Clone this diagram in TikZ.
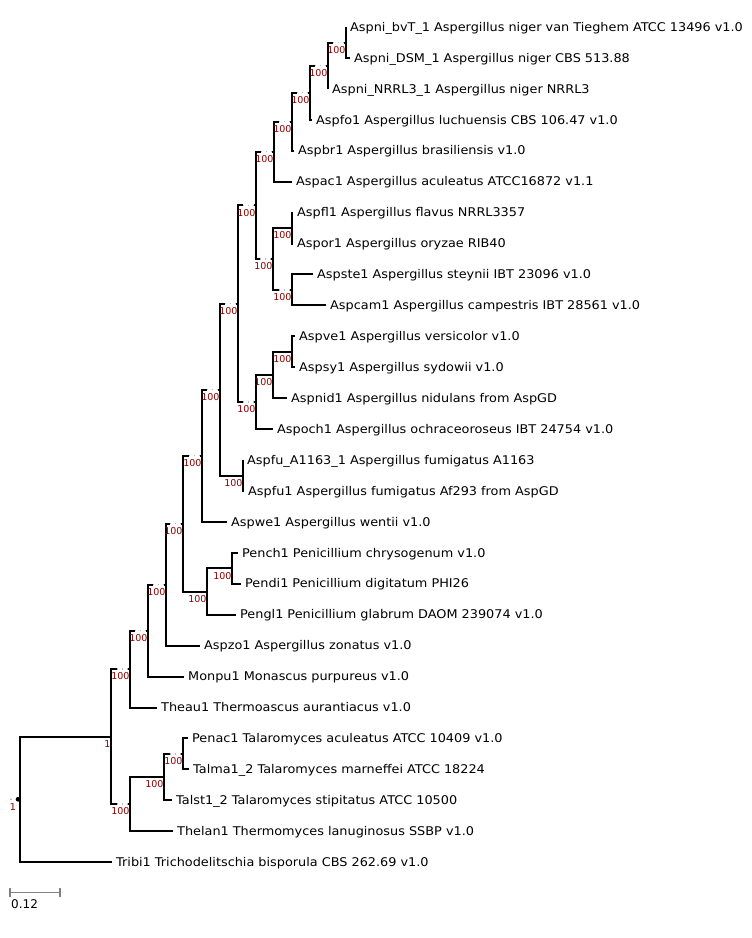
\documentclass[tikz,border=0pt]{standalone}
\usepackage{fontspec}
\setmainfont{DejaVu Sans}
\newfontfamily\leaffont[FakeStretch=1.07]{DejaVu Sans}
\usepackage{xcolor}
\usepackage{tikz}

\definecolor{bootred}{RGB}{139,0,0}

\begin{document}
\begin{tikzpicture}[x=1pt,y=-1pt]
			\tikzstyle{branch}=[draw, line width=2pt]
			\tikzstyle{leaf}=[anchor=west, inner sep=0pt, inner xsep=4pt, text height=8.5pt, text depth=0pt, font=\leaffont\fontsize{12}{14}\selectfont]
			\tikzstyle{boot}=[anchor=north east, inner sep=0pt, xshift=-0.3pt, yshift=-3.5pt, text height=7pt, text depth=0pt, text=bootred, font=\fontsize{9.5}{11}\selectfont]
			\tikzstyle{scalebar}=[draw=gray, line width=1.4pt]
			\tikzset{bsmark/.style = {draw=gray!55, line width=1.3pt, dash pattern=on 1.3pt off 3.5pt, preaction={draw=white, line width=2.6pt, solid}}}
			
			\useasboundingbox (0,0) rectangle (752,938);
			
			\node[leaf](bvT) at (346,27) {Aspni\_bvT\_1 Aspergillus niger van Tieghem ATCC 13496 v1.0};
			\node[leaf](dsm) at (350,57.9) {Aspni\_DSM\_1 Aspergillus niger CBS 513.88};
			\node[leaf](nrrl) at (328,88.9) {Aspni\_NRRL3\_1 Aspergillus niger NRRL3};
			\node[leaf](aspfo) at (312,119.8) {Aspfo1 Aspergillus luchuensis CBS 106.47 v1.0};
			\node[leaf](aspbr) at (294,150.7) {Aspbr1 Aspergillus brasiliensis v1.0};
			\node[leaf](aspac) at (292,181.7) {Aspac1 Aspergillus aculeatus ATCC16872 v1.1};
			\node[leaf](aspfl) at (293,212.6) {Aspfl1 Aspergillus flavus NRRL3357};
			\node[leaf](aspor) at (293,243.5) {Aspor1 Aspergillus oryzae RIB40};
			\node[leaf](aspste) at (313,274.4) {Aspste1 Aspergillus steynii IBT 23096 v1.0};
			\node[leaf](aspcam) at (326,305.4) {Aspcam1 Aspergillus campestris IBT 28561 v1.0};
			\node[leaf](aspve) at (295,336.3) {Aspve1 Aspergillus versicolor v1.0};
			\node[leaf](aspsy) at (295,367.2) {Aspsy1 Aspergillus sydowii v1.0};
			\node[leaf](aspnid) at (287,398.2) {Aspnid1 Aspergillus nidulans from AspGD};
			\node[leaf](aspoch) at (273,429.1) {Aspoch1 Aspergillus ochraceoroseus IBT 24754 v1.0};
			\node[leaf](aspfua) at (243,460) {Aspfu\_A1163\_1 Aspergillus fumigatus A1163};
			\node[leaf](aspfu) at (244,490.9) {Aspfu1 Aspergillus fumigatus Af293 from AspGD};
			\node[leaf](aspwe) at (227,521.9) {Aspwe1 Aspergillus wentii v1.0};
			\node[leaf](pench) at (238,552.8) {Pench1 Penicillium chrysogenum v1.0};
			\node[leaf](pendi) at (241,583.7) {Pendi1 Penicillium digitatum PHI26};
			\node[leaf](pengl) at (236,614.7) {Pengl1 Penicillium glabrum DAOM 239074 v1.0};
			\node[leaf](aspzo) at (200,645.6) {Aspzo1 Aspergillus zonatus v1.0};
			\node[leaf](monpu) at (184,676.5) {Monpu1 Monascus purpureus v1.0};
			\node[leaf](theau) at (157,707.5) {Theau1 Thermoascus aurantiacus v1.0};
			\node[leaf](penac) at (188,738.4) {Penac1 Talaromyces aculeatus ATCC 10409 v1.0};
			\node[leaf](talma) at (189,769.3) {Talma1\_2 Talaromyces marneffei ATCC 18224};
			\node[leaf](talst) at (172,800.2) {Talst1\_2 Talaromyces stipitatus ATCC 10500};
			\node[leaf](thelan) at (173,831.2) {Thelan1 Thermomyces lanuginosus SSBP v1.0};
			\node[leaf](tribi) at (112,862) {Tribi1 Trichodelitschia bisporula CBS 262.69 v1.0};
			
			\coordinate (n1) at (346,42.5);
			\coordinate (n2) at (328,65.7);
			\coordinate (n3) at (310,92.8);
			\coordinate (n4) at (292,121.7);
			\coordinate (n5) at (274,151.7);
			\coordinate (n8) at (292,228);
			\coordinate (n9) at (292,289.9);
			\coordinate (n7) at (273,259);
			\coordinate (n6) at (256,205.3);
			\coordinate (n13) at (292,351.8);
			\coordinate (n12) at (273,375);
			\coordinate (n11) at (256,402);
			\coordinate (n10) at (238,303.7);
			\coordinate (n15) at (243,475.5);
			\coordinate (n14) at (220,389.6);
			\coordinate (n16) at (202,455.7);
			\coordinate (n19) at (232,568.3);
			\coordinate (n18) at (207,591.5);
			\coordinate (n17) at (183,523.6);
			\coordinate (n20) at (166,584.6);
			\coordinate (n21) at (148,630.6);
			\coordinate (nb) at (130,669);
			\coordinate (nt2) at (183,753.9);
			\coordinate (nt1) at (164,777);
			\coordinate (nt) at (130,804.1);
			\coordinate (na) at (111,736.6);
			\coordinate (root) at (20,799.3);
			
			\draw[branch](n1) |- (bvT.west) (n1) |- (dsm.west);
			\draw[branch](n2) |- (n1) (n2) |- (nrrl.west);
			\draw[branch](n3) |- (n2) (n3) |- (aspfo.west);
			\draw[branch](n4) |- (n3) (n4) |- (aspbr.west);
			\draw[branch](n5) |- (n4) (n5) |- (aspac.west);
			\draw[branch](n8) |- (aspfl.west) (n8) |- (aspor.west);
			\draw[branch](n9) |- (aspste.west) (n9) |- (aspcam.west);
			\draw[branch](n7) |- (n8) (n7) |- (n9);
			\draw[branch](n6) |- (n5) (n6) |- (n7);
			\draw[branch](n13) |- (aspve.west) (n13) |- (aspsy.west);
			\draw[branch](n12) |- (n13) (n12) |- (aspnid.west);
			\draw[branch](n11) |- (n12) (n11) |- (aspoch.west);
			\draw[branch](n10) |- (n6) (n10) |- (n11);
			\draw[branch](n15) |- (aspfua.west) (n15) |- (aspfu.west);
			\draw[branch](n14) |- (n10) (n14) |- (n15);
			\draw[branch](n16) |- (n14) (n16) |- (aspwe.west);
			\draw[branch](n19) |- (pench.west) (n19) |- (pendi.west);
			\draw[branch](n18) |- (n19) (n18) |- (pengl.west);
			\draw[branch](n17) |- (n16) (n17) |- (n18);
			\draw[branch](n20) |- (n17) (n20) |- (aspzo.west);
			\draw[branch](n21) |- (n20) (n21) |- (monpu.west);
			\draw[branch](nb) |- (n21) (nb) |- (theau.west);
			\draw[branch](nt2) |- (penac.west) (nt2) |- (talma.west);
			\draw[branch](nt1) |- (nt2) (nt1) |- (talst.west);
			\draw[branch](nt) |- (nt1) (nt) |- (thelan.west);
			\draw[branch](na) |- (nb) (na) |- (nt);
			\draw[branch](root) |- (na) (root) |- (tribi.west);
			
			\foreach \n in {n1,n2,n3,n4,n5,n6,n7,n9,n10,n11,n14,n16,n17,n20,n21,nb,nt,nt2}
				\draw[bsmark] ([xshift=-13pt]\n) -- ([xshift=-1.6pt]\n);
			
			\foreach \n in {n1,n2,n3,n4,n5,n6,n7,n8,n9,n10,n11,n12,n13,n14,n15,n16,n17,n18,n19,n20,n21,nb,nt,nt1,nt2}
				\node[boot](\n l) at (\n) {100};
			\node[boot](nal) at (na) {1};
			\node[boot, xshift=-3.5pt](rootl) at (root) {1};
			\fill[black] ([xshift=-2pt]root) circle (2.3pt);
			\fill[gray!60] ([xshift=-9pt]root) circle (1pt);
			
			\coordinate (sbl) at (10,892.5);
			\coordinate (sbr) at (60,892.5);
			\draw[scalebar](sbl) -- (sbr);
			\draw[scalebar]([yshift=4.5pt]sbl) -- ([yshift=-4.5pt]sbl);
			\draw[scalebar]([yshift=4.5pt]sbr) -- ([yshift=-4.5pt]sbr);
			\node[anchor=north west, inner sep=0pt, text height=8.5pt, text depth=0pt, font=\fontsize{12}{14}\selectfont](sblab) at (11,900) {0.12};
			
\end{tikzpicture}
\end{document}
